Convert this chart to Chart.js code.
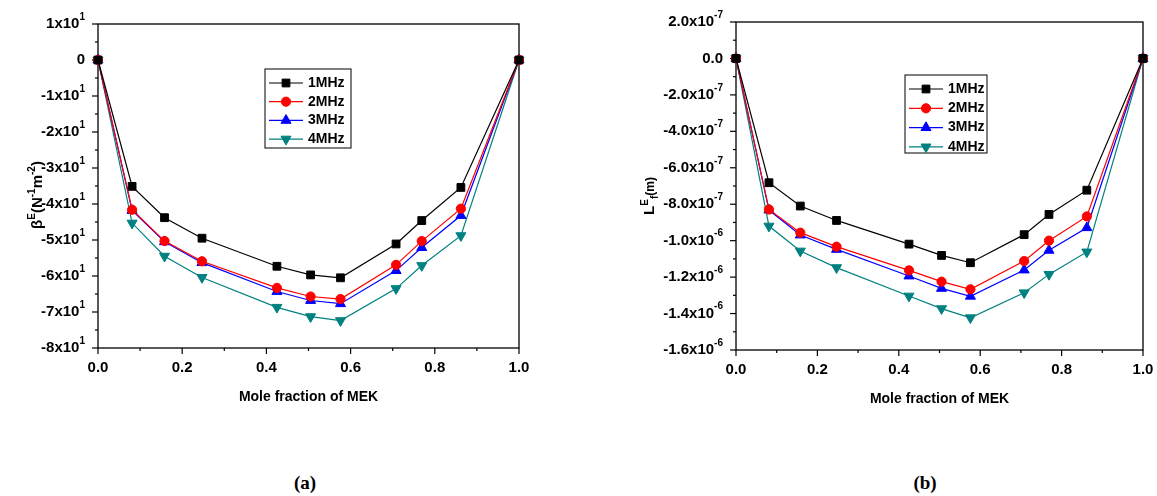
<!DOCTYPE html>
<html>
<head>
<meta charset="utf-8">
<script src="https://cdn.jsdelivr.net/npm/chart.js@4"></script>
<style>
  body { margin: 0; background: #fff; width: 1157px; height: 496px; overflow: hidden; position: relative; }
  .panel { position: absolute; top: 0; height: 420px; }
  .caption { position: absolute; top: 472px; font: bold 19px "Liberation Serif", serif; color: #000; transform: translateX(-50%); }
</style>
</head>
<body>
<div class="panel" style="left:0;width:578px"><canvas id="chartA" width="578" height="420"></canvas></div>
<div class="panel" style="left:578px;width:579px"><canvas id="chartB" width="579" height="420"></canvas></div>
<div class="caption" style="left:305px">(a)</div>
<div class="caption" style="left:925px">(b)</div>
<script>
// Mole fraction of MEK (x values, shared by both panels)
const moleFraction = [0, 0.081, 0.158, 0.247, 0.425, 0.505, 0.576, 0.708, 0.769, 0.862, 1];
const seriesLabels = ["1MHz", "2MHz", "3MHz", "4MHz"];

// (a) beta^E in N^-1 m^-2
const beta1MHz = [0, -35.1, -43.8, -49.5, -57.3, -59.7, -60.5, -51.1, -44.6, -35.4, 0];
const beta2MHz = [0, -41.6, -50.3, -55.9, -63.3, -65.7, -66.4, -56.9, -50.3, -41.3, 0];
const beta3MHz = [0, -41.8, -50.5, -56.3, -64.3, -66.8, -67.7, -58.5, -52.1, -43.2, 0];
const beta4MHz = [0, -45.3, -54.5, -60.4, -68.7, -71.3, -72.4, -63.5, -57.1, -48.8, 0];

// (b) L_f^E in m
const lf1MHz = [0, -6.82e-7, -8.10e-7, -8.89e-7, -1.019e-6, -1.081e-6, -1.121e-6, -9.67e-7, -8.56e-7, -7.23e-7, 0];
const lf2MHz = [0, -8.29e-7, -9.56e-7, -1.033e-6, -1.163e-6, -1.225e-6, -1.267e-6, -1.112e-6, -1.000e-6, -8.67e-7, 0];
const lf3MHz = [0, -8.32e-7, -9.69e-7, -1.048e-6, -1.194e-6, -1.262e-6, -1.305e-6, -1.161e-6, -1.053e-6, -9.29e-7, 0];
const lf4MHz = [0, -9.20e-7, -1.057e-6, -1.148e-6, -1.304e-6, -1.373e-6, -1.423e-6, -1.286e-6, -1.185e-6, -1.062e-6, 0];

// tick labels ("^" marks the exponent part)
const xTickValues = [0, 0.2, 0.4, 0.6, 0.8, 1.0];
const xTickLabels = ["0.0", "0.2", "0.4", "0.6", "0.8", "1.0"];
const betaTickValues = [10, 0, -10, -20, -30, -40, -50, -60, -70, -80];
const betaTickLabels = ["1x10^1", "0", "-1x10^1", "-2x10^1", "-3x10^1", "-4x10^1", "-5x10^1", "-6x10^1", "-7x10^1", "-8x10^1"];
const lfTickValues = [2e-7, 0, -2e-7, -4e-7, -6e-7, -8e-7, -1e-6, -1.2e-6, -1.4e-6, -1.6e-6];
const lfTickLabels = ["2.0x10^-7", "0.0", "-2.0x10^-7", "-4.0x10^-7", "-6.0x10^-7", "-8.0x10^-7", "-1.0x10^-6", "-1.2x10^-6", "-1.4x10^-6", "-1.6x10^-6"];

const seriesStyles = [
  { color: "#000000", pointStyle: "rect", radius: 5.5, rotation: 0 },
  { color: "#ff0000", pointStyle: "circle", radius: 4.6, rotation: 0 },
  { color: "#0000ff", pointStyle: "triangle", radius: 5.8, rotation: 0 },
  { color: "#008080", pointStyle: "triangle", radius: 5.8, rotation: 180 }
];

const FONT = '"Liberation Sans", Arial, sans-serif';

function makeDatasets(seriesList) {
  return seriesList.map((vals, i) => {
    const s = seriesStyles[i];
    return {
      label: seriesLabels[i],
      data: moleFraction.map((x, j) => ({ x: x, y: vals[j] })),
      borderColor: s.color,
      backgroundColor: s.color,
      borderWidth: 1.2,
      pointStyle: s.pointStyle,
      pointRadius: s.radius,
      pointRotation: s.rotation,
      pointBorderWidth: 1,
      tension: 0,
      clip: false
    };
  });
}

// draws "base" with a raised "exp" so that the whole thing ends at xRight
function drawExpLabel(ctx, text, xRight, y) {
  const parts = text.split("^");
  ctx.font = "bold 15px " + FONT;
  const wBase = ctx.measureText(parts[0]).width;
  let wExp = 0;
  if (parts[1]) {
    ctx.font = "bold 10px " + FONT;
    wExp = ctx.measureText(parts[1]).width;
  }
  ctx.textBaseline = "middle";
  ctx.textAlign = "left";
  ctx.font = "bold 15px " + FONT;
  ctx.fillText(parts[0], xRight - wExp - wBase, y);
  if (parts[1]) {
    ctx.font = "bold 10px " + FONT;
    ctx.fillText(parts[1], xRight - wExp, y - 7);
  }
}

// runs of [text, size, shift] drawn in a rotated frame
function drawRuns(ctx, runs, cx, cy) {
  let total = 0;
  runs.forEach(r => { ctx.font = "bold " + r[1] + "px " + FONT; total += ctx.measureText(r[0]).width; });
  ctx.save();
  ctx.translate(cx, cy);
  ctx.rotate(-Math.PI / 2);
  ctx.textBaseline = "alphabetic";
  ctx.textAlign = "left";
  let x = -total / 2;
  runs.forEach(r => {
    ctx.font = "bold " + r[1] + "px " + FONT;
    ctx.fillText(r[0], x, r[2]);
    x += ctx.measureText(r[0]).width;
  });
  ctx.restore();
}

const axesPlugin = {
  id: "axesPlugin",
  beforeDatasetsDraw(chart, args, opts) {
    const ctx = chart.ctx;
    const a = chart.chartArea;
    const xs = chart.scales.x, ys = chart.scales.y;
    ctx.save();
    ctx.strokeStyle = "#000";
    ctx.fillStyle = "#000";
    ctx.lineWidth = 1.3;
    ctx.strokeRect(a.left, a.top, a.right - a.left, a.bottom - a.top);

    ctx.lineWidth = 1.2;
    // x ticks (major + minor)
    for (let v = 0; v <= 1.0001; v += 0.1) {
      const px = xs.getPixelForValue(v);
      const major = Math.round(v * 10) % 2 === 0;
      ctx.beginPath();
      ctx.moveTo(px, a.bottom);
      ctx.lineTo(px, a.bottom + (major ? 6 : 3));
      ctx.stroke();
    }
    ctx.font = "bold 15px " + FONT;
    ctx.textAlign = "center";
    ctx.textBaseline = "middle";
    xTickValues.forEach((v, i) => ctx.fillText(xTickLabels[i], xs.getPixelForValue(v), a.bottom + 20));

    // y ticks
    const yv = opts.yTickValues;
    const step = yv[0] - yv[1];
    yv.forEach((v, i) => {
      const py = ys.getPixelForValue(v);
      ctx.beginPath();
      ctx.moveTo(a.left - 6, py);
      ctx.lineTo(a.left, py);
      ctx.stroke();
      if (i < yv.length - 1) {
        const pm = ys.getPixelForValue(v - step / 2);
        ctx.beginPath();
        ctx.moveTo(a.left - 3, pm);
        ctx.lineTo(a.left, pm);
        ctx.stroke();
      }
      drawExpLabel(ctx, opts.yTickLabels[i], a.left - opts.labelGap, py);
    });

    // axis titles
    ctx.font = "bold 14px " + FONT;
    ctx.textAlign = "center";
    ctx.textBaseline = "middle";
    ctx.fillText("Mole fraction of MEK", (a.left + a.right) / 2, a.bottom + 49);
    drawRuns(ctx, opts.yTitleRuns, opts.yTitleX, opts.yTitleY);

    // legend box
    const L = opts.legend;
    ctx.lineWidth = 1;
    ctx.strokeStyle = "#000";
    ctx.strokeRect(L.x, L.y, L.w, L.h);
    chart.data.datasets.forEach((ds, i) => {
      const ly = L.y + 14 + i * L.rowH;
      ctx.strokeStyle = ds.borderColor;
      ctx.fillStyle = ds.backgroundColor;
      ctx.lineWidth = 1.2;
      ctx.beginPath();
      ctx.moveTo(L.x + 4, ly);
      ctx.lineTo(L.x + 38, ly);
      ctx.stroke();
      ctx.lineWidth = 1;
      Chart.helpers.drawPoint(ctx, { pointStyle: ds.pointStyle, radius: ds.pointRadius, rotation: ds.pointRotation, borderWidth: 1 }, L.x + 21, ly);
      ctx.fillStyle = "#000";
      ctx.font = "bold 14px " + FONT;
      ctx.textAlign = "left";
      ctx.textBaseline = "middle";
      ctx.fillText(ds.label, L.x + 43, ly);
    });
    ctx.restore();
  }
};

function buildChart(id, seriesList, yMin, yMax, padding, pluginOpts) {
  const ctx = document.getElementById(id).getContext("2d");
  return new Chart(ctx, {
    type: "line",
    data: { datasets: makeDatasets(seriesList) },
    options: {
      responsive: false,
      animation: false,
      layout: { padding: padding },
      plugins: { legend: { display: false }, tooltip: { enabled: false }, axesPlugin: pluginOpts },
      scales: {
        x: { type: "linear", min: 0, max: 1, display: false },
        y: { type: "linear", min: yMin, max: yMax, display: false }
      }
    },
    plugins: [axesPlugin]
  });
}

document.addEventListener("DOMContentLoaded", () => {
  buildChart("chartA", [beta1MHz, beta2MHz, beta3MHz, beta4MHz], -80, 10,
    { left: 98, right: 59, top: 24, bottom: 72 },
    {
      yTickValues: betaTickValues, yTickLabels: betaTickLabels, labelGap: 13,
      yTitleX: 42, yTitleY: 195,
      yTitleRuns: [["\u03b2", 15, 0], ["E", 10, -7], ["(N", 15, 0], ["-1", 10, -7], ["m", 15, 0], ["-2", 10, -7], [")", 15, 0]],
      legend: { x: 265, y: 69, w: 86, h: 79, rowH: 18.7 }
    });

  buildChart("chartB", [lf1MHz, lf2MHz, lf3MHz, lf4MHz], -1.6e-6, 2e-7,
    { left: 158, right: 14, top: 22, bottom: 70 },
    {
      yTickValues: lfTickValues, yTickLabels: lfTickLabels, labelGap: 13,
      yTitleX: 76, yTitleY: 196,
      yTitleRuns: [["L", 15, 0], ["E", 10, -6], ["f", 10, 4], ["(m)", 12, 0]],
      legend: { x: 327, y: 75, w: 82, h: 78, rowH: 19.3 }
    });
});
</script>
</body>
</html>
